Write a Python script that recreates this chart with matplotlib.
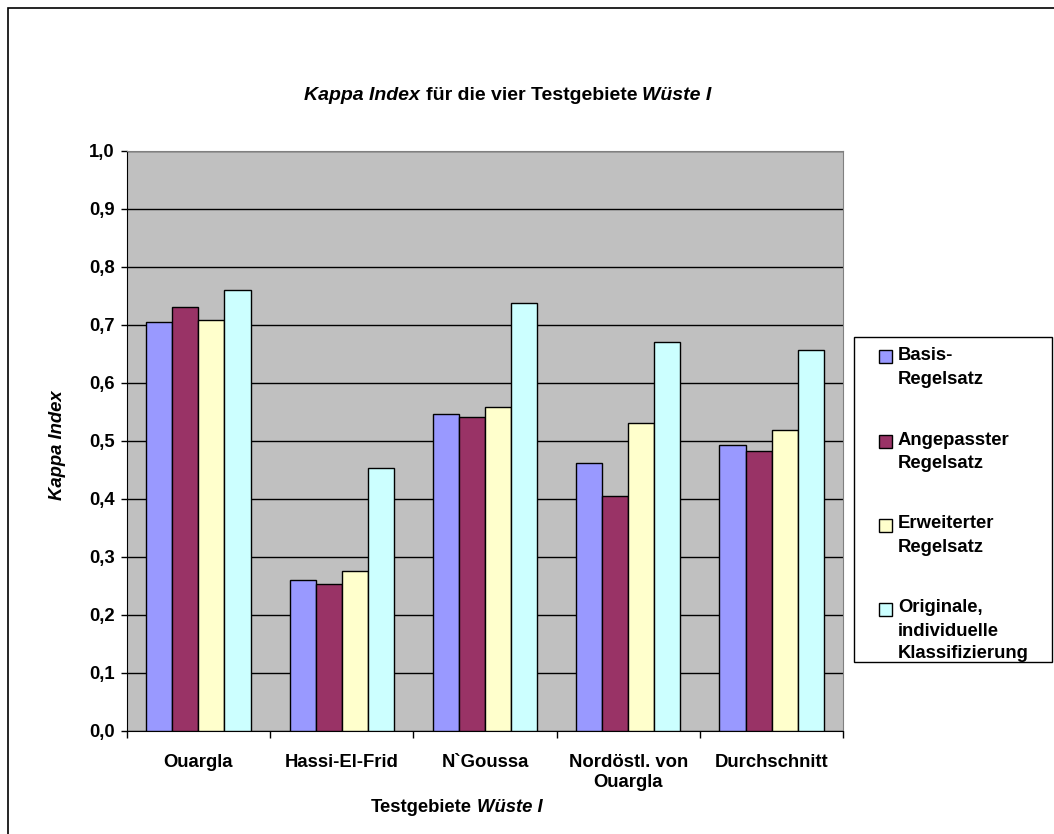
import matplotlib.pyplot as plt
from matplotlib.patches import Rectangle
import numpy as np

plt.rcParams['font.family'] = ['Liberation Sans', 'DejaVu Sans']

# test sites and kappa values per rule set
sites = ['Ouargla', 'Hassi-El-Frid', 'N`Goussa', 'Nordöstl. von\nOuargla', 'Durchschnitt']
basis = [0.704, 0.259, 0.546, 0.461, 0.493]
angepasst = [0.730, 0.253, 0.541, 0.405, 0.482]
erweitert = [0.708, 0.276, 0.558, 0.531, 0.518]
original = [0.759, 0.453, 0.737, 0.671, 0.656]

series = [basis, angepasst, erweitert, original]
labels = ['Basis-\nRegelsatz', 'Angepasster\nRegelsatz', 'Erweiterter\nRegelsatz',
          'Originale,\nindividuelle\nKlassifizierung']
colors = ['#9999FF', '#993366', '#FFFFCC', '#CCFFFF']

W, H = 1054, 834
FS = 13.3

fig = plt.figure(figsize=(W / 100, H / 100), dpi=100)
ax = fig.add_axes([126.7 / W, 1 - 730.7 / H, 716.6 / W, 580 / H])
ax.set_facecolor('#C0C0C0')

# grouped bars
bw = 0.182
x = np.arange(len(sites))
for j, (vals, c) in enumerate(zip(series, colors)):
    ax.bar(x + (j - 1.5) * bw, vals, bw, color=c, edgecolor='black', linewidth=1, zorder=3)

ax.set_xlim(-0.5, len(sites) - 0.5)
ax.set_ylim(0, 1.0)
ax.set_yticks(np.arange(0, 1.01, 0.1))
ax.set_yticklabels([f'{v:.1f}'.replace('.', ',') for v in np.arange(0, 1.01, 0.1)],
                   fontsize=FS, fontweight='bold')
ax.yaxis.grid(True, color='black', linewidth=1)
ax.set_axisbelow(True)
ax.tick_params(axis='y', direction='out', length=4.5, width=1, pad=4)

ax.set_xticks(x)
ax.set_xticklabels(sites, fontsize=FS, fontweight='bold')
ax.set_xticks(np.arange(-0.5, len(sites), 1.0), minor=True)
ax.tick_params(axis='x', which='major', length=0, pad=17)
ax.tick_params(axis='x', which='minor', direction='out', length=5, width=1)

for s in ['top', 'right']:
    ax.spines[s].set_color('#808080')
for s in ['left', 'bottom']:
    ax.spines[s].set_color('black')

fig.canvas.draw()
renderer = fig.canvas.get_renderer()


def rich_text(xc, yc, parts, size):
    # lays out bold text pieces side by side, centred at (xc, yc) in pixels
    texts = [fig.text(0, 1 - yc / H, s, style=st, fontweight='bold', fontsize=size,
                      va='center', ha='left') for s, st in parts]
    widths = [t.get_window_extent(renderer).width for t in texts]
    gap = size * 100 / 72 * 0.278
    total = sum(widths) + gap * (len(parts) - 1)
    x0 = xc - total / 2
    for t, w in zip(texts, widths):
        t.set_x(x0 / W)
        x0 += w + gap


rich_text(508, 96, [('Kappa Index', 'italic'), ('für die vier Testgebiete', 'normal'),
                    ('Wüste I', 'italic')], 14)
rich_text(457, 808, [('Testgebiete', 'normal'), ('Wüste I', 'italic')], FS)
fig.text(57 / W, 1 - 445 / H, 'Kappa Index', rotation=90, style='italic', fontweight='bold',
         fontsize=FS, ha='center', va='center')

# legend box
fig.add_artist(Rectangle((854 / W, 1 - 662 / H), (1052 - 854) / W, (662 - 337) / H,
                         transform=fig.transFigure, facecolor='white', edgecolor='black',
                         linewidth=1))
for k, (lab, c) in enumerate(zip(labels, colors)):
    yc = 357 + k * 84
    fig.add_artist(Rectangle((879 / W, 1 - (yc + 6.5) / H), 13 / W, 13 / H,
                             transform=fig.transFigure, facecolor=c, edgecolor='black',
                             linewidth=1))
    for i, line in enumerate(lab.split('\n')):
        fig.text(898 / W, 1 - (yc - 1 + i * 23) / H, line, fontsize=FS, fontweight='bold',
                 ha='left', va='center')

# outer chart frame
fig.add_artist(Rectangle((8 / W, -0.05), 1.1, 1 - 8 / H + 0.05, transform=fig.transFigure,
                         facecolor='none', edgecolor='black', linewidth=1.2))

fig.savefig('out.png', dpi=100)
